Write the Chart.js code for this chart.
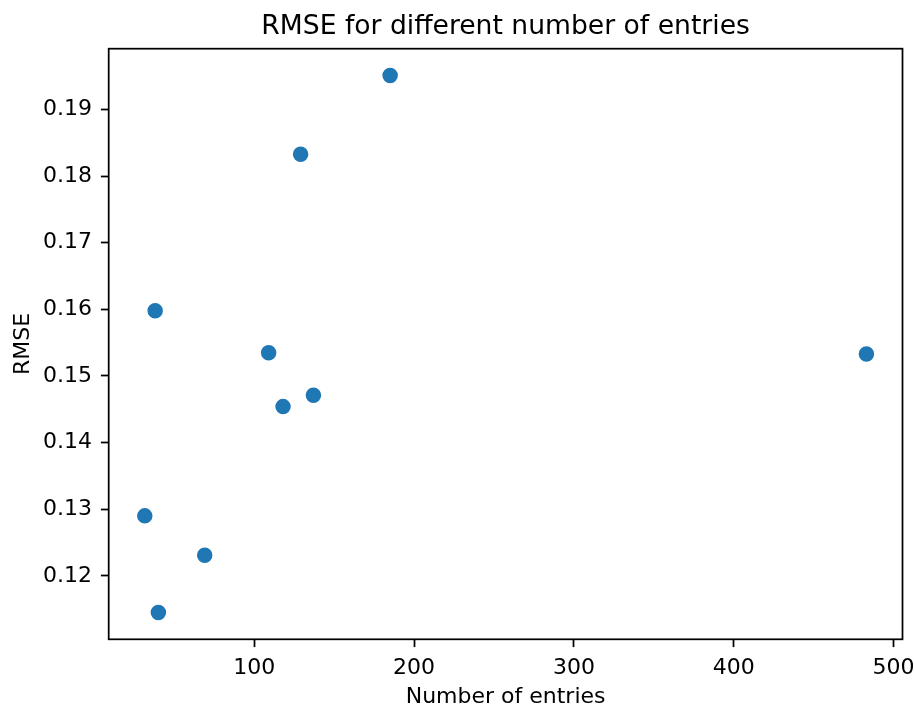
<!DOCTYPE html>
<html>
<head>
<meta charset="utf-8">
<title>RMSE for different number of entries</title>
<script src="https://cdn.jsdelivr.net/npm/chart.js@4.4.1/dist/chart.umd.min.js"></script>
<style>
  html, body { margin: 0; padding: 0; background: #fff; }
  #wrap { width: 914px; height: 705px; }
</style>
</head>
<body>
<div id="wrap"><canvas id="rmseChart" width="914" height="705"></canvas></div>
<script>
'use strict';

// number of entries per run and the RMSE it got
var entries = [185, 129, 38, 109, 118, 137, 31.5, 69, 40, 483];
var rmse = [0.1951, 0.1833, 0.1598, 0.1535, 0.1454, 0.1471, 0.1290, 0.1231, 0.1145, 0.1533];

var xTicks = [100, 200, 300, 400, 500];
var yTicks = [0.12, 0.13, 0.14, 0.15, 0.16, 0.17, 0.18, 0.19];

var FONT = 'DejaVu Sans';
var BLUE = '#1f77b4';
var LW = 1.75;
var TICK_LEN = 7.8;

// 5% padding around the data, same as pyplot autoscale
function padRange(vals) {
  var lo = Math.min.apply(null, vals), hi = Math.max.apply(null, vals);
  var m = (hi - lo) * 0.05;
  return [lo - m, hi + m];
}
var xr = padRange(entries);
var yr = padRange(rmse);

var points = entries.map(function (e, i) { return { x: e, y: rmse[i] }; });

// frame round the plot + title centred over the axes
var frame = {
  id: 'frame',
  afterDatasetsDraw: function (chart) {
    var a = chart.chartArea, ctx = chart.ctx;
    ctx.save();
    ctx.strokeStyle = '#000';
    ctx.lineWidth = LW;
    ctx.strokeRect(a.left, a.top, a.right - a.left, a.bottom - a.top);
    ctx.fillStyle = '#000';
    ctx.font = '26.6px "' + FONT + '"';
    ctx.textAlign = 'center';
    ctx.textBaseline = 'alphabetic';
    ctx.fillText('RMSE for different number of entries', (a.left + a.right) / 2, 33.5);
    ctx.restore();
  }
};

new Chart(document.getElementById('rmseChart').getContext('2d'), {
  type: 'scatter',
  data: {
    datasets: [{
      data: points,
      backgroundColor: BLUE,
      borderColor: BLUE,
      borderWidth: 1.5,
      pointRadius: 7,
      pointHoverRadius: 7
    }]
  },
  options: {
    responsive: false,
    animation: false,
    events: [],
    layout: { padding: { top: 48.7, right: 11.5, left: 0, bottom: 0 } },
    plugins: {
      legend: { display: false },
      tooltip: { enabled: false },
      title: { display: false }
    },
    scales: {
      x: {
        type: 'linear',
        min: xr[0],
        max: xr[1],
        afterBuildTicks: function (s) { s.ticks = xTicks.map(function (v) { return { value: v }; }); },
        afterFit: function (s) {
          s.height = 65.7;
          s.paddingLeft = 0;
          s.paddingRight = 0;
        },
        border: { display: false },
        grid: { drawOnChartArea: false, tickLength: TICK_LEN, tickColor: '#000', tickWidth: LW },
        ticks: {
          padding: 8,
          maxRotation: 0,
          color: '#000',
          font: { family: FONT, size: 22 },
          callback: function (v) { return String(v); }
        },
        title: {
          display: true,
          text: 'Number of entries',
          color: '#000',
          font: { family: FONT, size: 22, lineHeight: 0.7 },
          padding: { top: 0, bottom: 0 }
        }
      },
      y: {
        type: 'linear',
        min: yr[0],
        max: yr[1],
        afterBuildTicks: function (s) { s.ticks = yTicks.map(function (v) { return { value: v }; }); },
        afterFit: function (s) { s.width = 108.7; },
        border: { display: false },
        grid: { drawOnChartArea: false, tickLength: TICK_LEN, tickColor: '#000', tickWidth: LW },
        ticks: {
          padding: 9,
          color: '#000',
          font: { family: FONT, size: 22 },
          callback: function (v) { return v.toFixed(2); }
        },
        title: {
          display: true,
          text: 'RMSE',
          color: '#000',
          font: { family: FONT, size: 22, lineHeight: 0.7 },
          padding: { top: 15.5, bottom: 0 }
        }
      }
    }
  },
  plugins: [frame]
});
</script>
</body>
</html>
